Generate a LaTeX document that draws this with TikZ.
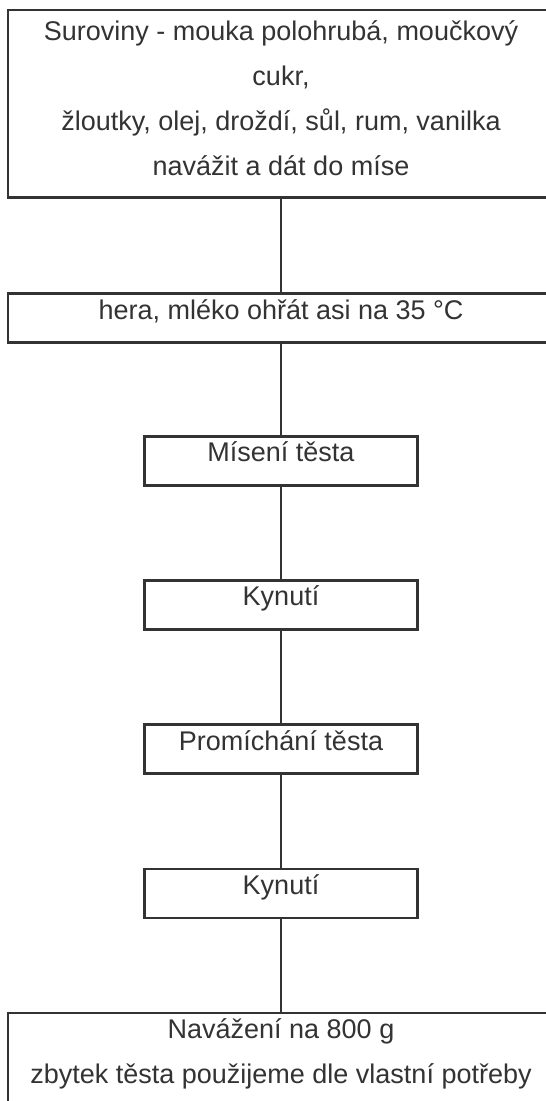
\documentclass[tikz,border=0pt]{standalone}
\usepackage{fontspec}
\setmainfont{Liberation Sans}
\definecolor{ink}{HTML}{333333}
\begin{document}
\begin{tikzpicture}[x=1pt,y=-1pt,
  every node/.style={font=\fontsize{27}{45}\selectfont, text=ink},
  box/.style={draw=ink, line width=2.7pt, rectangle, inner xsep=0pt, inner ysep=0pt, anchor=north, align=center},
  onebox/.style={box, text height=25.5pt, text depth=23.5pt},
  link/.style={draw=ink, line width=2.7pt}]
\useasboundingbox (0,0) rectangle (546,1101);
\clip (0,0) rectangle (546,1101);
\fill[white] (0,0) rectangle (546,1101);
\node[box, minimum width=546pt] (raw) at (281,8.5)
  {\rule{0pt}{30.5pt}Suroviny - mouka polohrubá, moučkový\\ cukr,\\ žloutky, olej, droždí, sůl, rum, vanilka\\ navážit a dát do míse\rule[-22pt]{0pt}{22pt}};
\node[onebox, minimum width=546pt] (heat) at (281,292.2) {hera, mléko ohřát asi na 35 °C};
\node[onebox, minimum width=273pt] (mix) at (281,434.8) {Mísení těsta};
\node[onebox, minimum width=273pt] (rise1) at (281,579.1) {Kynutí};
\node[onebox, minimum width=273pt] (stir) at (281,723.4) {Promíchání těsta};
\node[onebox, minimum width=273pt] (rise2) at (281,867.7) {Kynutí};
\node[box, minimum width=546pt] (weigh) at (281,1011.7)
  {\rule{0pt}{25pt}Navážení na 800 g\\ zbytek těsta použijeme dle vlastní potřeby\rule[-40pt]{0pt}{40pt}};
\draw[link] (raw.south) -- (heat.north);
\draw[link] (heat.south) -- (mix.north);
\draw[link] (mix.south) -- (rise1.north);
\draw[link] (rise1.south) -- (stir.north);
\draw[link] (stir.south) -- (rise2.north);
\draw[link] (rise2.south) -- (weigh.north);
\end{tikzpicture}
\end{document}
